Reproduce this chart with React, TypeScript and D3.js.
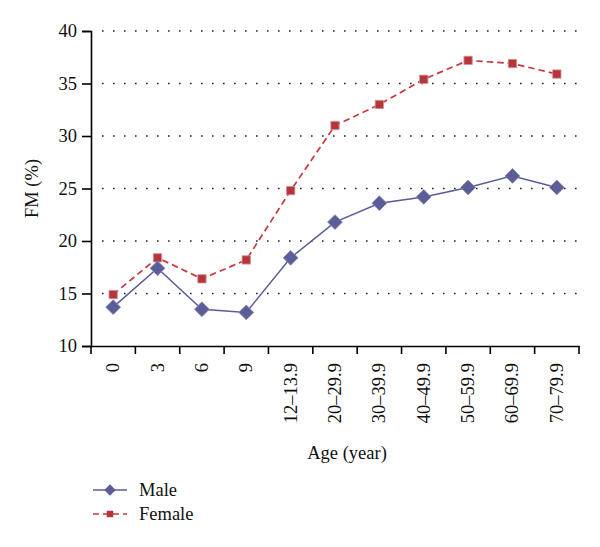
import * as d3 from 'd3';
import React, { useEffect, useRef } from 'react';

const categories = ['0', '3', '6', '9', '12–13.9', '20–29.9', '30–39.9', '40–49.9', '50–59.9', '60–69.9', '70–79.9'];
const maleValues = [13.7, 17.4, 13.5, 13.2, 18.4, 21.8, 23.6, 24.2, 25.1, 26.2, 25.1];
const femaleValues = [14.9, 18.4, 16.4, 18.2, 24.8, 31.0, 33.0, 35.4, 37.2, 36.9, 35.9];
const yTicks = [10, 15, 20, 25, 30, 35, 40];

const maleColor = '#5b5b99';
const femaleColor = '#c8383f';
const font = '"Liberation Serif", "DejaVu Serif", serif';
const fontSize = 18.5;

const App = () => {
    const ref = useRef<SVGSVGElement>(null);
    const width = 600;
    const height = 547;
    const margin = { top: 31, right: 21, bottom: 201, left: 91 };

    useEffect(() => {
        const svg = d3.select(ref.current);
        svg.selectAll('*').remove();

        const x = d3.scaleBand().domain(categories).range([margin.left, width - margin.right]);
        const y = d3.scaleLinear().domain([10, 40]).range([height - margin.bottom, margin.top]);
        const xc = (d: string) => (x(d) as number) + x.bandwidth() / 2;

        // dotted gridlines
        svg.append('g')
            .selectAll('line')
            .data(yTicks.slice(1))
            .enter()
            .append('line')
            .attr('x1', margin.left + 11)
            .attr('x2', width - margin.right)
            .attr('y1', d => y(d))
            .attr('y2', d => y(d))
            .attr('stroke', '#222')
            .attr('stroke-width', 1.6)
            .attr('stroke-dasharray', '1.6,9.4');

        // y axis
        const yAxis = svg.append('g')
            .attr('transform', `translate(${margin.left},0)`)
            .call(d3.axisLeft(y).tickValues(yTicks).tickSize(9).tickPadding(5));
        yAxis.attr('font-family', font).attr('font-size', fontSize);
        yAxis.select('.domain').attr('stroke', '#000').attr('stroke-width', 1.6);
        yAxis.selectAll('.tick line').attr('stroke', '#000').attr('stroke-width', 1.6);
        yAxis.selectAll('text').attr('fill', '#111');

        // x axis
        const xAxis = svg.append('g')
            .attr('transform', `translate(0,${height - margin.bottom})`)
            .call(d3.axisBottom(x).tickSize(0).tickFormat(() => ''));
        xAxis.select('.domain').attr('stroke', '#000').attr('stroke-width', 1.6);
        xAxis.selectAll('.tick').remove();

        const edges = categories.map(c => x(c) as number).concat([width - margin.right]);
        svg.append('g')
            .selectAll('line')
            .data(edges)
            .enter()
            .append('line')
            .attr('x1', d => d)
            .attr('x2', d => d)
            .attr('y1', height - margin.bottom)
            .attr('y2', height - margin.bottom + 8)
            .attr('stroke', '#000')
            .attr('stroke-width', 1.6);

        svg.append('g')
            .selectAll('text')
            .data(categories)
            .enter()
            .append('text')
            .attr('transform', d => `translate(${xc(d) + 6},${height - margin.bottom + 17}) rotate(-90)`)
            .attr('text-anchor', 'end')
            .attr('font-family', font)
            .attr('font-size', fontSize)
            .attr('fill', '#111')
            .text(d => d);

        // axis titles
        svg.append('text')
            .attr('x', 347)
            .attr('y', 459)
            .attr('text-anchor', 'middle')
            .attr('font-family', font)
            .attr('font-size', fontSize)
            .attr('fill', '#111')
            .text('Age (year)');

        svg.append('text')
            .attr('transform', `translate(38,${(margin.top + height - margin.bottom) / 2}) rotate(-90)`)
            .attr('text-anchor', 'middle')
            .attr('font-family', font)
            .attr('font-size', fontSize)
            .attr('fill', '#111')
            .text('FM (%)');

        const line = d3.line<number>()
            .x((d, i) => xc(categories[i]))
            .y(d => y(d));

        // female series
        svg.append('path')
            .attr('d', line(femaleValues))
            .attr('fill', 'none')
            .attr('stroke', femaleColor)
            .attr('stroke-width', 1.7)
            .attr('stroke-dasharray', '6.5,4');

        // male series
        svg.append('path')
            .attr('d', line(maleValues))
            .attr('fill', 'none')
            .attr('stroke', maleColor)
            .attr('stroke-width', 1.5);

        const diamond = d3.symbol().type(d3.symbolSquare).size(110);
        const square = d3.symbol().type(d3.symbolSquare).size(70);

        svg.append('g')
            .selectAll('path')
            .data(femaleValues)
            .enter()
            .append('path')
            .attr('d', square())
            .attr('transform', (d, i) => `translate(${xc(categories[i])},${y(d)})`)
            .attr('fill', '#b8343b')
            .attr('stroke', '#c99a9c')
            .attr('stroke-width', 0.8);

        svg.append('g')
            .selectAll('path')
            .data(maleValues)
            .enter()
            .append('path')
            .attr('d', diamond())
            .attr('transform', (d, i) => `translate(${xc(categories[i])},${y(d)}) rotate(45)`)
            .attr('fill', '#5c5c98')
            .attr('stroke', '#8a8ab5')
            .attr('stroke-width', 0.8);

        // legend
        const legend = svg.append('g');
        legend.append('line')
            .attr('x1', 93).attr('x2', 127).attr('y1', 490).attr('y2', 490)
            .attr('stroke', maleColor).attr('stroke-width', 1.5);
        legend.append('path')
            .attr('d', d3.symbol().type(d3.symbolSquare).size(64)())
            .attr('transform', 'translate(110,490) rotate(45)')
            .attr('fill', '#5c5c98');
        legend.append('text')
            .attr('x', 139).attr('y', 496)
            .attr('font-family', font).attr('font-size', fontSize).attr('fill', '#111')
            .text('Male');

        legend.append('line')
            .attr('x1', 93).attr('x2', 127).attr('y1', 514).attr('y2', 514)
            .attr('stroke', femaleColor).attr('stroke-width', 1.7)
            .attr('stroke-dasharray', '6,4');
        legend.append('path')
            .attr('d', d3.symbol().type(d3.symbolSquare).size(42)())
            .attr('transform', 'translate(110,514)')
            .attr('fill', '#b8343b');
        legend.append('text')
            .attr('x', 139).attr('y', 520)
            .attr('font-family', font).attr('font-size', fontSize).attr('fill', '#111')
            .text('Female');
    }, []);

    return (
        <svg ref={ref} width={width} height={height} style={{ position: 'absolute', left: 0, top: 0, background: '#fff' }}>
        </svg>
    );
};

export default App;
